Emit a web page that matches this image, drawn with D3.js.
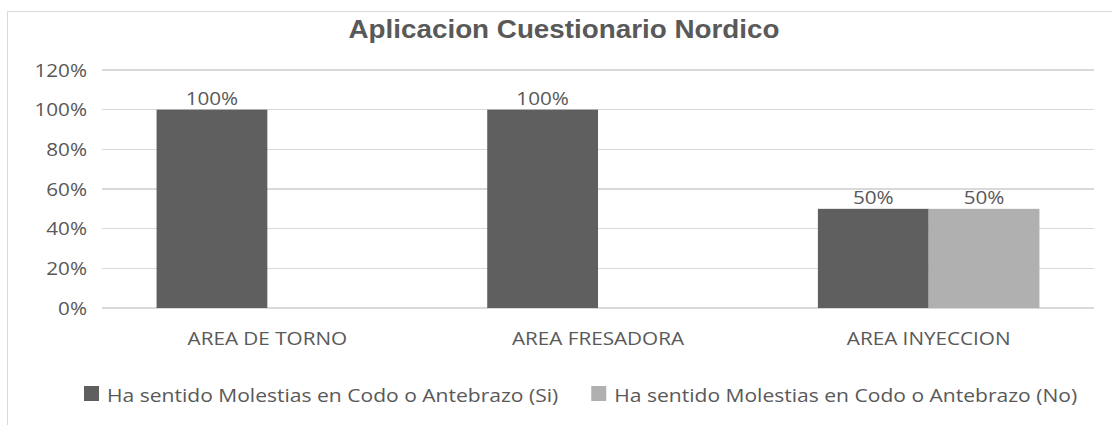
<!DOCTYPE html>
<meta charset="utf-8">
<style>
body {
  margin: 0;
  background-color: #ffffff;
}
text {
  font-family: "Open Sans", sans-serif;
  fill: #595959;
}
.grid line {
  stroke: #d9d9d9;
  stroke-width: 1.5px;
  shape-rendering: crispEdges;
}
.title {
  font-family: "Liberation Sans", Arial, sans-serif;
  font-weight: bold;
  font-size: 26px;
  transform-box: fill-box;
  transform-origin: center;
  transform: scaleX(1.07);
}
/* the reference text is a bit stretched horizontally */
.lbl {
  font-size: 18px;
  transform-box: fill-box;
  transform: scaleX(1.15);
}
.leg { transform: scaleX(1.17); }
.mid { transform-origin: center; }
.end { transform-origin: right; }
.start { transform-origin: left; }
</style>
<svg width="1112" height="425"></svg>
<script src="https://d3js.org/d3.v7.min.js"></script>
<script>

var categories = ["AREA DE TORNO", "AREA FRESADORA", "AREA INYECCION"];
var seriesNames = ["Ha sentido Molestias en Codo o Antebrazo (Si)", "Ha sentido Molestias en Codo o Antebrazo (No)"];
var siValues = [1.0, 1.0, 0.5];
var noValues = [null, null, 0.5];
var yTicks = [0, 0.2, 0.4, 0.6, 0.8, 1.0, 1.2];
var colors = ["#5f5f5f", "#b0b0b0"];

var svg = d3.select("svg"),
    margin = {top: 70, right: 18, bottom: 117, left: 102},
    width = +svg.attr("width") - margin.left - margin.right,
    height = +svg.attr("height") - margin.top - margin.bottom;

// chart frame (top + left edges only visible)
svg.append("path")
    .attr("d", "M7.5,425 V11.5 H1112")
    .attr("fill", "none")
    .attr("stroke", "#d9d9d9")
    .attr("stroke-width", 1);

svg.append("text")
    .attr("class", "title")
    .attr("x", 564)
    .attr("y", 38)
    .attr("text-anchor", "middle")
    .text("Aplicacion Cuestionario Nordico");

var g = svg.append("g")
    .attr("transform", "translate(" + margin.left + "," + margin.top + ")");

var x0 = d3.scaleBand().domain(categories).range([0, width]).paddingInner(0.33).paddingOuter(0.165);
var x1 = d3.scaleBand().domain([0, 1]).range([0, x0.bandwidth()]);
var y = d3.scaleLinear().domain([0, 1.2]).range([height, 0]);

var fmt = d3.format(".0%");

// gridlines
g.append("g").attr("class", "grid")
  .selectAll("line").data(yTicks).enter().append("line")
    .attr("x1", 0).attr("x2", width)
    .attr("y1", d => y(d)).attr("y2", d => y(d));

// y labels
var yAxis = g.append("g")
    .call(d3.axisLeft(y).tickValues(yTicks).tickFormat(fmt).tickSize(0).tickPadding(15));
yAxis.select(".domain").remove();
yAxis.selectAll("text").attr("class", "lbl end").attr("fill", null).attr("dy", "0.35em")
    .style("font-family", "\"Open Sans\", sans-serif").style("font-size", "18px");

// x labels
var xAxis = g.append("g")
    .attr("transform", "translate(0," + height + ")")
    .call(d3.axisBottom(x0).tickSize(0).tickPadding(0));
xAxis.select(".domain").remove();
xAxis.selectAll("text").attr("class", "lbl mid").attr("fill", null).attr("y", 37).attr("dy", null)
    .style("font-family", "\"Open Sans\", sans-serif").style("font-size", "18px");

var rows = [];
categories.forEach(function(c, i) {
  rows.push({cat: c, s: 0, value: siValues[i]});
  if (noValues[i] != null) rows.push({cat: c, s: 1, value: noValues[i]});
});

g.selectAll(".bar").data(rows).enter().append("rect")
    .attr("class", "bar")
    .attr("x", d => x0(d.cat) + x1(d.s))
    .attr("y", d => y(d.value))
    .attr("width", x1.bandwidth())
    .attr("height", d => height - y(d.value))
    .attr("fill", d => colors[d.s]);

g.selectAll(".numLabel").data(rows).enter().append("text")
    .attr("class", "numLabel lbl mid")
    .attr("x", d => x0(d.cat) + x1(d.s) + x1.bandwidth() / 2)
    .attr("y", d => y(d.value) - 5)
    .attr("text-anchor", "middle")
    .text(d => fmt(d.value));

// legend
var legend = svg.append("g").attr("transform", "translate(84,386)");
var lx = 0;
seriesNames.forEach(function(name, i) {
  var item = legend.append("g").attr("transform", "translate(" + lx + ",0)");
  item.append("rect").attr("x", 0).attr("y", 0).attr("width", 15).attr("height", 15).attr("fill", colors[i]);
  var t = item.append("text").attr("class", "lbl leg start").attr("x", 23).attr("y", 16).text(name);
  lx += 23 + t.node().getComputedTextLength() * 1.17 + 33;
});

</script>
